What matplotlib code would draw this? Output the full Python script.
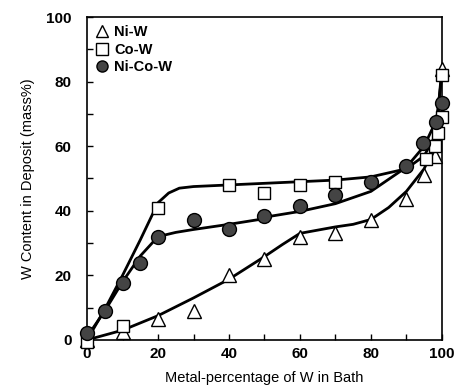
import matplotlib.pyplot as plt
from matplotlib.ticker import MultipleLocator

plt.rcParams['font.family'] = ['Liberation Sans', 'DejaVu Sans']

# measured points
niw_x = [0, 10, 20, 30, 40, 50, 60, 70, 80, 90, 95, 98, 100]
niw_y = [0, 2.5, 6.5, 9, 20, 25, 32, 33, 37, 43.5, 51, 57, 84]
cow_x = [0, 10, 20, 40, 50, 60, 70, 95.5, 98, 99, 100, 100]
cow_y = [-0.5, 4.3, 41, 48, 45.5, 48, 49, 56, 60, 64, 69, 82]
nicow_x = [0, 5, 10, 15, 20, 30, 40, 50, 60, 70, 80, 90, 94.6, 98.3, 100]
nicow_y = [2, 9, 17.6, 23.8, 32, 37, 34.5, 38.5, 41.5, 45, 49, 54, 61, 67.5, 73.5]

# hand-drawn trend curves
niw_fit_x = [0, 10, 20, 30, 40, 50, 55, 60, 70, 75, 80, 85, 90, 95, 98, 100]
niw_fit_y = [0, 3, 7.5, 13, 18.8, 25.8, 29.5, 33, 35, 35.8, 37.3, 41, 46, 53, 60, 84]
cow_fit_x = [0, 5, 10, 15, 20, 23, 26, 30, 40, 50, 60, 70, 80, 90, 95, 98, 100]
cow_fit_y = [0, 9.5, 20, 31, 42.5, 45.5, 47, 47.5, 48, 48.5, 49, 49.5, 50.5, 53, 57, 63, 82]
nicow_fit_x = [0, 5, 10, 15, 20, 25, 30, 40, 48]
nicow_fit_y = [1, 9, 18, 26, 32, 33.3, 34.2, 35.8, 37.2]
nicow_fit2_x = [50, 60, 70, 80, 90, 95, 98, 100]
nicow_fit2_y = [38, 39.8, 42.2, 46, 53.5, 60, 67, 75]

fig = plt.figure(figsize=(4.56, 3.88), dpi=100)
ax = fig.add_axes([0.191, 0.124, 0.778, 0.832])

lw = 2.0
ax.plot(niw_fit_x, niw_fit_y, color='black', lw=lw, clip_on=False, zorder=2)
ax.plot(cow_fit_x, cow_fit_y, color='black', lw=lw, clip_on=False, zorder=2)
ax.plot(nicow_fit_x, nicow_fit_y, color='black', lw=lw, clip_on=False, zorder=2)
ax.plot(nicow_fit2_x, nicow_fit2_y, color='black', lw=lw, clip_on=False, zorder=2)

ax.plot(niw_x, niw_y, linestyle='none', marker='^', ms=10.5, mfc='white',
        mec='black', mew=1.0, clip_on=False, zorder=3, label='Ni-W')
ax.plot(cow_x, cow_y, linestyle='none', marker='s', ms=8.5, mfc='white',
        mec='black', mew=1.0, clip_on=False, zorder=3, label='Co-W')
ax.plot(nicow_x, nicow_y, linestyle='none', marker='o', ms=10, mfc='#444444',
        mec='black', mew=1.0, clip_on=False, zorder=4, label='Ni-Co-W')

ax.set_xlim(0, 100)
ax.set_ylim(0, 100)
ax.xaxis.set_major_locator(MultipleLocator(20))
ax.xaxis.set_minor_locator(MultipleLocator(10))
ax.yaxis.set_major_locator(MultipleLocator(20))
ax.yaxis.set_minor_locator(MultipleLocator(10))
ax.tick_params(which='both', direction='in', length=4, width=1)
ax.tick_params(axis='y', pad=11)
ax.tick_params(axis='x', pad=5)
for lab in ax.get_xticklabels() + ax.get_yticklabels():
    lab.set_fontweight('bold')
    lab.set_fontsize(11)
for s in ax.spines.values():
    s.set_linewidth(1.2)

ax.set_xlabel('Metal-percentage of W in Bath', fontsize=10.5, labelpad=7)
ax.set_ylabel('W Content in Deposit (mass%)', fontsize=10.5, labelpad=8)

leg = ax.legend(loc='upper left', frameon=False,
                handletextpad=0.3, handlelength=1.0, labelspacing=0.25,
                borderaxespad=0.15, prop={'weight': 'bold', 'size': 10.5})
for h in leg.legend_handles:
    h.set_markersize(8)

fig.savefig('out.png', dpi=100)
